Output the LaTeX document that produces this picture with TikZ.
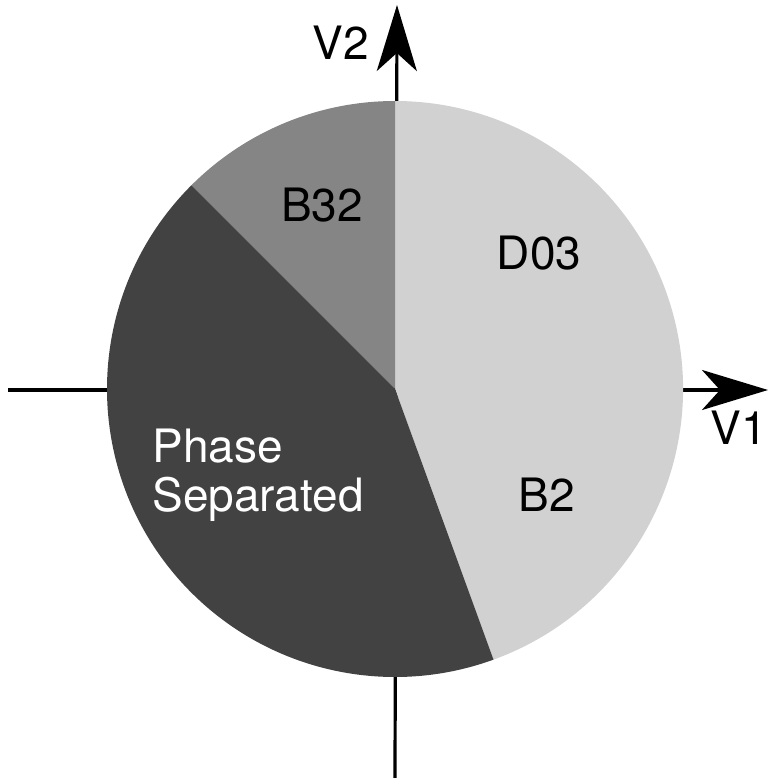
\documentclass[tikz,border=0pt]{standalone}
\usepackage{fontspec}
\setmainfont{TeX Gyre Heros}
\usetikzlibrary{arrows.meta}
\definecolor{lightsec}{gray}{0.82}
\definecolor{midsec}{gray}{0.52}
\definecolor{darksec}{gray}{0.26}
\tikzset{
  axis/.style={line width=1.6pt, black},
  axisarrow/.style={axis, -{Stealth[length=33pt, width=20pt, inset=9pt]}},
  lbl/.style={font=\fontsize{23}{24.5}\selectfont, inner sep=0pt, anchor=base},
  wlbl/.style={lbl, text=white, anchor=base west},
}
\begin{document}
\begin{tikzpicture}[x=0.5pt, y=0.5pt]
\useasboundingbox (0,0) rectangle (769,778);
\coordinate (O) at (395,389);
\coordinate (hl) at (8,388);
\coordinate (hr) at (768,388);
\coordinate (vb) at (395,0);
\coordinate (vt) at (397,773);
% axes
\draw[axisarrow] (hl) -- (hr);
\draw[axisarrow] (vb) -- (vt);
% sectors
\fill[lightsec] (O) -- ++(-70:288) arc[start angle=-70, end angle=90, radius=288] -- cycle;
\fill[midsec] (O) -- ++(90:288) arc[start angle=90, end angle=135, radius=288] -- cycle;
\fill[darksec] (O) -- ++(135:288) arc[start angle=135, end angle=290, radius=288] -- cycle;
% labels
\node[lbl] (v2) at (341,718) {V2};
\node[lbl] (v1) at (739,333) {V1};
\node[lbl] (d03) at (539,508) {D03};
\node[lbl] (b32) at (322,556) {B32};
\node[lbl] (b2) at (547,266) {B2};
\node[wlbl] (ph1) at (152,315) {Phase};
\node[wlbl] (ph2) at (152,266) {Separated};
\end{tikzpicture}
\end{document}
